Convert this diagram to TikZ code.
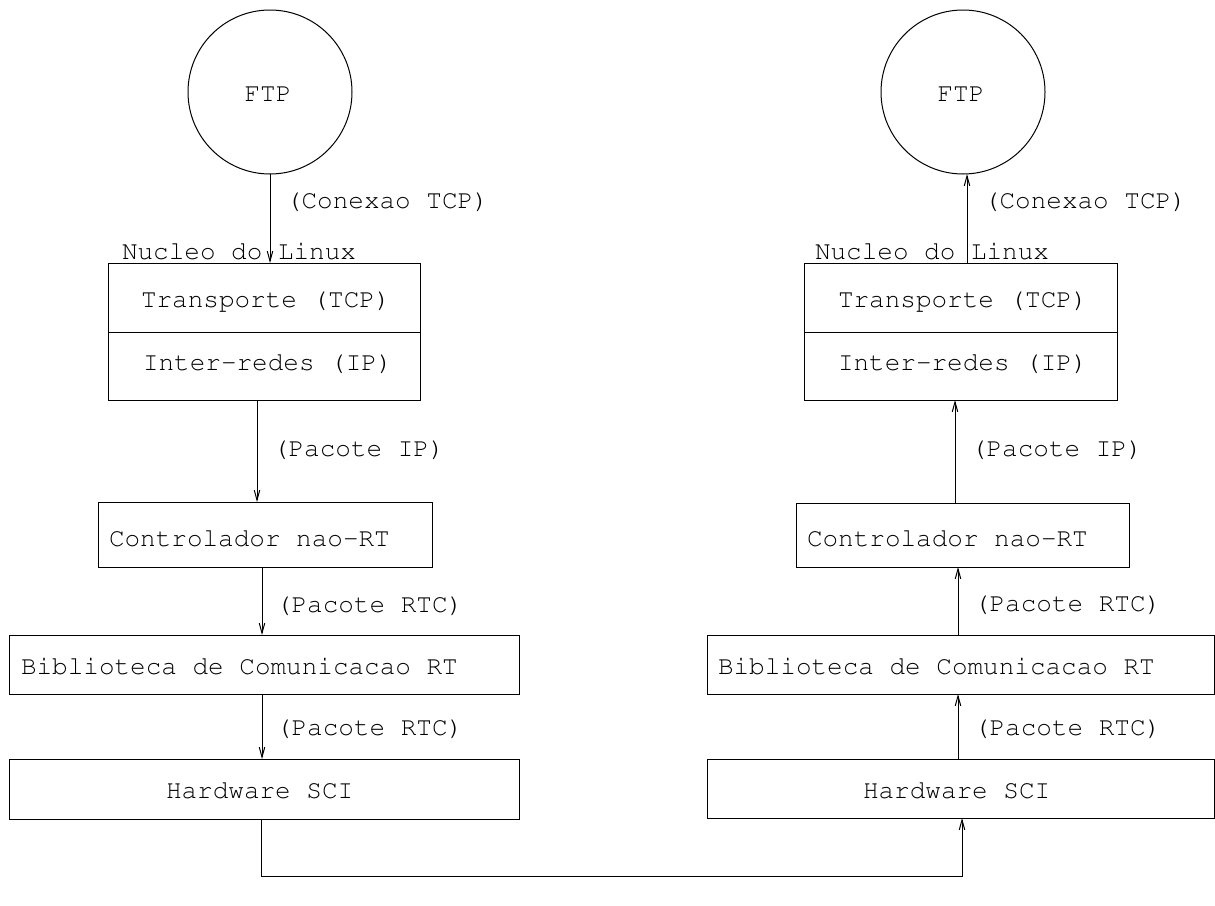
\documentclass[tikz,border=0pt]{standalone}
\usetikzlibrary{arrows.meta}
\newcommand{\labelfont}{\fontencoding{T1}\fontfamily{pcr}\fontseries{m}\fontshape{n}\fontsize{26}{30}\selectfont}
\begin{document}
\begin{tikzpicture}[x=1pt,y=-1pt,
  every node/.style={font=\labelfont, inner sep=0pt, outer sep=0pt},
  box/.style={draw, line width=1pt, anchor=north west},
  proc/.style={draw, circle, line width=1pt, minimum size=164pt},
  lbl/.style={anchor=base west},
  arr/.style={line width=1pt, -{Straight Barb[length=10pt,width=5.5pt]}},
  wire/.style={line width=1pt}]
\useasboundingbox (0,0) rectangle (1215,905);

% ---------- sending host ----------
\node[proc] (ftpL) at (270,92) {};
\node[anchor=base] (ftpLt) at (268,101) {FTP};
\node[lbl] (nucL) at (122,259) {Nucleo do Linux};
\node[box, minimum width=312pt, minimum height=69pt] (tcpL) at (108,263) {};
\node[box, minimum width=312pt, minimum height=68pt] (ipL) at (108,332) {};
\node[lbl] (tcpLt) at (141,307) {Transporte (TCP)};
\node[lbl] (ipLt) at (143,370) {Inter-redes (IP)};
\node[box, minimum width=334pt, minimum height=65pt] (ctlL) at (98,502) {};
\node[lbl] (ctlLt) at (109,546) {Controlador nao-RT};
\node[box, minimum width=510pt, minimum height=59pt] (bibL) at (9,635) {};
\node[lbl] (bibLt) at (21,674) {Biblioteca de Comunicacao RT};
\node[box, minimum width=510pt, minimum height=60pt] (hwL) at (9,759) {};
\node[lbl] (hwLt) at (166,798) {Hardware SCI};

\node[lbl] (conL) at (286,208) {(Conexao TCP)};
\node[lbl] (pipL) at (273,456) {(Pacote IP)};
\node[lbl] (rtcL1) at (276,612) {(Pacote RTC)};
\node[lbl] (rtcL2) at (276,735) {(Pacote RTC)};

% ---------- receiving host ----------
\node[proc] (ftpR) at (963,92) {};
\node[anchor=base] (ftpRt) at (961,101) {FTP};
\node[lbl] (nucR) at (815,259) {Nucleo do Linux};
\node[box, minimum width=313pt, minimum height=69pt] (tcpR) at (804,263) {};
\node[box, minimum width=313pt, minimum height=68pt] (ipR) at (804,332) {};
\node[lbl] (tcpRt) at (838,307) {Transporte (TCP)};
\node[lbl] (ipRt) at (838,370) {Inter-redes (IP)};
\node[box, minimum width=333pt, minimum height=64pt] (ctlR) at (796,503) {};
\node[lbl] (ctlRt) at (807,546) {Controlador nao-RT};
\node[box, minimum width=507pt, minimum height=59pt] (bibR) at (707,635) {};
\node[lbl] (bibRt) at (718,674) {Biblioteca de Comunicacao RT};
\node[box, minimum width=507pt, minimum height=59pt] (hwR) at (707,759) {};
\node[lbl] (hwRt) at (863,798) {Hardware SCI};

\node[lbl] (conR) at (984,208) {(Conexao TCP)};
\node[lbl] (pipR) at (971,456) {(Pacote IP)};
\node[lbl] (rtcR1) at (974,611) {(Pacote RTC)};
\node[lbl] (rtcR2) at (974,735) {(Pacote RTC)};

% ---------- connector columns ----------
\coordinate (xLip) at (257,0);
\coordinate (xLrt) at (262,0);
\coordinate (xLhw) at (261,0);
\coordinate (xRtcp) at (967,0);
\coordinate (xRip) at (955,0);
\coordinate (xRrt) at (958,0);
\coordinate (xRhw) at (962,0);
\coordinate (ybus) at (0,876);

% downward path on the sending side
\draw[arr] (ftpL.south) -- (tcpL.north -| ftpL.south);
\draw[arr] (ipL.south -| xLip) -- (ctlL.north -| xLip);
\draw[arr] (ctlL.south -| xLrt) -- (bibL.north -| xLrt);
\draw[arr] (bibL.south -| xLrt) -- (hwL.north -| xLrt);

% SCI link between the two hosts
\draw[arr] (hwL.south -| xLhw) -- (xLhw |- ybus) -- (xRhw |- ybus) -- (hwR.south -| xRhw);

% upward path on the receiving side
\draw[arr] (hwR.north -| xRrt) -- (bibR.south -| xRrt);
\draw[arr] (bibR.north -| xRrt) -- (ctlR.south -| xRrt);
\draw[arr] (ctlR.north -| xRip) -- (ipR.south -| xRip);
\draw[arr] (tcpR.north -| xRtcp) -- (ftpR.south -| xRtcp);
\end{tikzpicture}
\end{document}
